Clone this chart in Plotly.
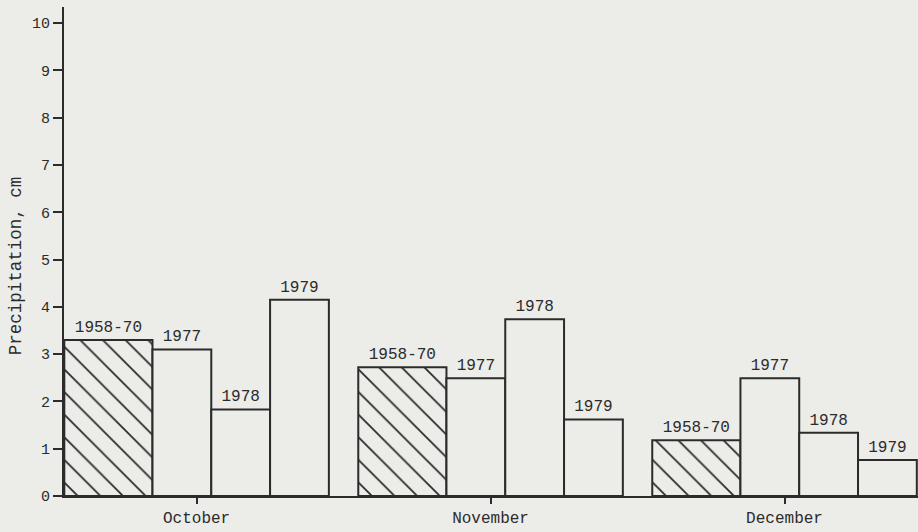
import plotly.graph_objects as go

# ---- data ----
months = ["October", "November", "December"]
series_names = ["1958-70", "1977", "1978", "1979"]
precip_1958_70 = [3.30, 2.72, 1.18]
precip_1977 = [3.10, 2.49, 2.49]
precip_1978 = [1.83, 3.74, 1.34]
precip_1979 = [4.15, 1.62, 0.76]
y_tick_values = list(range(0, 11))
y_title = "Precipitation, cm"

series_values = [precip_1958_70, precip_1977, precip_1978, precip_1979]

# ---- style ----
bg = "#ecece8"
ink = "#2b2b2b"
font_family = "Liberation Mono, DejaVu Sans Mono, monospace"
bar_widths = [0.30, 0.20, 0.20, 0.20]
bar_offsets = [-0.45, -0.15, 0.05, 0.25]

fig = go.Figure()
for i, (name, vals) in enumerate(zip(series_names, series_values)):
    marker = dict(color=bg, line=dict(color=ink, width=2))
    if i == 0:
        marker["pattern"] = dict(shape="\\", size=16, solidity=0.11,
                                 fgcolor=ink, fgopacity=1, bgcolor=bg,
                                 fillmode="overlay")
    fig.add_trace(go.Bar(
        x=months, y=vals, name=name,
        width=bar_widths[i], offset=bar_offsets[i],
        marker=marker,
        text=[name] * len(vals), textposition="outside",
        textfont=dict(family=font_family, size=16, color=ink),
        constraintext="none", cliponaxis=False,
        showlegend=False,
    ))

fig.update_layout(
    width=918, height=532,
    barmode="overlay",
    paper_bgcolor=bg, plot_bgcolor=bg,
    margin=dict(l=64, r=0, t=7, b=36),
    font=dict(family=font_family, size=16, color=ink),
    showlegend=False,
)
fig.update_xaxes(
    type="category", range=[-0.451, 2.454],
    showline=True, linecolor=ink, linewidth=2,
    ticks="outside", ticklen=6, tickwidth=2, tickcolor=ink,
    showgrid=False, zeroline=False,
    tickfont=dict(family=font_family, size=16, color=ink),
)
fig.update_yaxes(
    range=[0, 10.34], tickvals=y_tick_values,
    showline=True, linecolor=ink, linewidth=2,
    ticks="outside", ticklen=9, tickwidth=1.5, tickcolor=ink,
    showgrid=False, zeroline=False,
    tickfont=dict(family=font_family, size=15, color=ink),
)
fig.add_annotation(
    text=y_title, textangle=-90, xref="paper", yref="paper",
    x=-48 / 854, y=0.47, xanchor="center", yanchor="middle",
    showarrow=False, font=dict(family=font_family, size=17.5, color=ink),
)

fig.write_html("out.html")
